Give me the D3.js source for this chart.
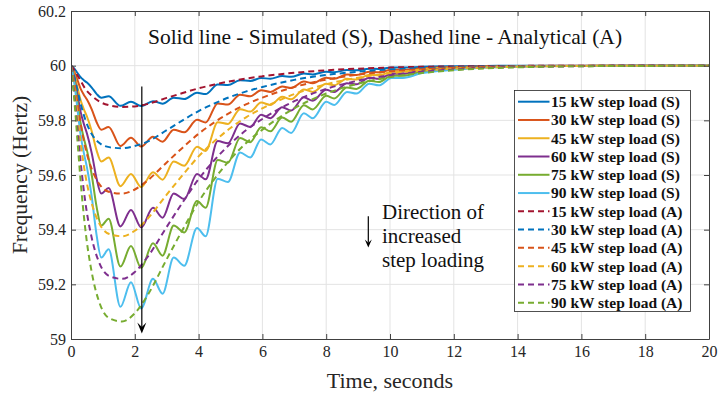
<!DOCTYPE html>
<html><head><meta charset="utf-8">
<script src="https://cdn.jsdelivr.net/npm/d3@7"></script>
<style>html,body{margin:0;padding:0;background:#fff;} svg{display:block;}</style>
</head><body>
<svg id="c" width="718" height="393"></svg>
<script>
// ---- data ----
const timeS = [0,0.1,0.2,0.3,0.4,0.5,0.65,0.8,0.95,1.18,1.55,1.88,2.2,2.57,2.87,3.22,3.55,3.95,4.22,4.6,4.92,5.3,5.62,5.96,6.25,6.62,6.9,7.3,7.58,8,8.25,8.65,8.95,9.35,9.65,10.05,10.4,11,12,13,14,16,20];
const sim15 = [60,59.990,59.974,59.958,59.947,59.938,59.920,59.897,59.883,59.888,59.853,59.868,59.852,59.870,59.861,59.883,59.878,59.901,59.896,59.931,59.929,59.947,59.944,59.955,59.952,59.962,59.959,59.971,59.968,59.978,59.976,59.984,59.983,59.989,59.988,59.993,59.993,59.996,59.998,59.999,60,60,60];
const sim30 = [60,59.980,59.948,59.916,59.894,59.876,59.840,59.794,59.766,59.776,59.706,59.736,59.704,59.740,59.722,59.766,59.756,59.802,59.792,59.862,59.858,59.894,59.888,59.910,59.904,59.924,59.918,59.942,59.936,59.956,59.952,59.968,59.966,59.978,59.976,59.985,59.985,59.991,59.995,59.998,59.999,60,60];
const sim45 = [60,59.970,59.922,59.874,59.841,59.814,59.760,59.691,59.649,59.664,59.559,59.604,59.556,59.610,59.583,59.649,59.634,59.703,59.688,59.793,59.787,59.841,59.832,59.865,59.856,59.886,59.877,59.913,59.904,59.934,59.928,59.952,59.949,59.967,59.964,59.978,59.978,59.987,59.993,59.996,59.999,59.999,60];
const sim60 = [60,59.960,59.896,59.832,59.788,59.752,59.680,59.588,59.532,59.552,59.412,59.472,59.408,59.480,59.444,59.532,59.512,59.604,59.584,59.724,59.716,59.788,59.776,59.820,59.808,59.848,59.836,59.884,59.872,59.912,59.904,59.936,59.932,59.956,59.952,59.970,59.970,59.982,59.990,59.995,59.998,59.999,60];
const sim75 = [60,59.950,59.870,59.790,59.735,59.690,59.600,59.485,59.415,59.440,59.265,59.340,59.260,59.350,59.305,59.415,59.390,59.505,59.480,59.655,59.645,59.735,59.720,59.775,59.760,59.810,59.795,59.855,59.840,59.890,59.880,59.920,59.915,59.945,59.940,59.963,59.963,59.978,59.988,59.994,59.998,59.999,60];
const sim90 = [60,59.940,59.844,59.748,59.682,59.628,59.520,59.382,59.298,59.328,59.118,59.208,59.112,59.220,59.166,59.298,59.268,59.406,59.376,59.586,59.574,59.682,59.664,59.730,59.712,59.772,59.754,59.826,59.808,59.868,59.856,59.904,59.898,59.934,59.928,59.955,59.955,59.973,59.985,59.993,59.997,59.999,60];

const timeA = [0,0.1,0.2,0.3,0.45,0.65,0.9,1.2,1.6,2.0,2.4,3.0,3.5,4.0,4.5,5.0,5.5,6.0,7.0,8.0,9.0,10,11,12,13,14,16,18,20];
const ana15 = [60,59.985,59.965,59.945,59.915,59.890,59.868,59.855,59.849,59.851,59.860,59.882,59.900,59.917,59.931,59.943,59.953,59.961,59.974,59.983,59.989,59.993,59.996,59.997,59.998,59.999,60,60,60];
const ana30 = [60,59.962,59.912,59.862,59.802,59.750,59.716,59.702,59.698,59.706,59.722,59.764,59.800,59.834,59.862,59.886,59.906,59.922,59.948,59.966,59.978,59.986,59.991,59.994,59.997,59.998,59.999,60,60];
const ana45 = [60,59.940,59.865,59.790,59.700,59.622,59.565,59.538,59.532,59.547,59.580,59.646,59.700,59.751,59.793,59.829,59.859,59.883,59.922,59.949,59.967,59.979,59.987,59.992,59.995,59.997,59.999,60,60];
const ana60 = [60,59.920,59.820,59.720,59.600,59.496,59.420,59.384,59.376,59.396,59.440,59.528,59.600,59.668,59.724,59.772,59.812,59.844,59.896,59.932,59.956,59.972,59.982,59.989,59.993,59.996,59.999,60,60];
const ana75 = [60,59.900,59.775,59.650,59.500,59.370,59.275,59.230,59.220,59.245,59.300,59.410,59.500,59.585,59.655,59.715,59.765,59.805,59.870,59.915,59.945,59.965,59.978,59.986,59.992,59.995,59.998,60,60];
const ana90 = [60,59.880,59.730,59.580,59.400,59.244,59.130,59.076,59.064,59.094,59.160,59.292,59.400,59.502,59.586,59.658,59.718,59.766,59.844,59.898,59.934,59.958,59.973,59.983,59.990,59.994,59.998,59.999,60];

const xTicks = [0,2,4,6,8,10,12,14,16,18,20];
const yTicks = [59,59.2,59.4,59.6,59.8,60,60.2];
const yTickLabels = ["59","59.2","59.4","59.6","59.8","60","60.2"];
const legendLabels = ["15 kW step load (S)","30 kW step load (S)","45 kW step load (S)","60 kW step load (S)","75 kW step load (S)","90 kW step load (S)",
  "15 kW step load (A)","30 kW step load (A)","45 kW step load (A)","60 kW step load (A)","75 kW step load (A)","90 kW step load (A)"];
const titleText = "Solid line - Simulated (S), Dashed line - Analytical (A)";
const noteLines = ["Direction of","increased","step loading"];

// ---- drawing ----
const colorsS = ["#0072BD","#D95319","#EDB120","#7E2F8E","#77AC30","#4DBEEE"];
const colorsA = ["#A2142F","#0072BD","#D95319","#EDB120","#7E2F8E","#77AC30"];
const simSeries = [sim15,sim30,sim45,sim60,sim75,sim90];
const anaSeries = [ana15,ana30,ana45,ana60,ana75,ana90];

const L = 71, R = 709, T = 11, B = 339;
const svg = d3.select("#c");
const x = d3.scaleLinear().domain([0,20]).range([L,R]);
const y = d3.scaleLinear().domain([59,60.2]).range([B,T]);
const serif = "'Liberation Serif','Times New Roman',serif";

// grid
const g = svg.append("g");
g.selectAll("line.vx").data(xTicks.slice(1,-1)).join("line")
  .attr("x1",d=>x(d)).attr("x2",d=>x(d)).attr("y1",T).attr("y2",B)
  .attr("stroke","#e3e3e3").attr("stroke-width",1);
g.selectAll("line.hy").data(yTicks.slice(1,-1)).join("line")
  .attr("x1",L).attr("x2",R).attr("y1",d=>y(d)).attr("y2",d=>y(d))
  .attr("stroke","#e3e3e3").attr("stroke-width",1);

svg.append("defs").append("clipPath").attr("id","clip")
  .append("rect").attr("x",L).attr("y",T).attr("width",R-L).attr("height",B-T);

const lineS = d3.line().x((d,i)=>x(timeS[i])).y(d=>y(d)).curve(d3.curveMonotoneX);
const lineA = d3.line().x((d,i)=>x(timeA[i])).y(d=>y(d)).curve(d3.curveMonotoneX);
const plot = svg.append("g").attr("clip-path","url(#clip)");
simSeries.forEach((s,i)=>{
  plot.append("path").attr("d",lineS(s)).attr("fill","none")
    .attr("stroke",colorsS[i]).attr("stroke-width",2);
});
anaSeries.forEach((s,i)=>{
  plot.append("path").attr("d",lineA(s)).attr("fill","none")
    .attr("stroke",colorsA[i]).attr("stroke-width",2).attr("stroke-dasharray","6,4");
});

// axes
const axCol = "#404040";
function styleAxis(sel){
  sel.select(".domain").attr("stroke",axCol);
  sel.selectAll(".tick line").attr("stroke",axCol);
  sel.selectAll("text").attr("font-family",serif).attr("font-size",16).attr("fill","#262626");
}
svg.append("g").attr("transform",`translate(0,${B})`)
  .call(d3.axisBottom(x).tickValues(xTicks).tickFormat(d3.format("d")).tickSizeInner(-5).tickSizeOuter(0).tickPadding(7))
  .call(styleAxis);
svg.append("g").attr("transform",`translate(${L},0)`)
  .call(d3.axisLeft(y).tickValues(yTicks).tickFormat((d,i)=>yTickLabels[i]).tickSizeInner(-5).tickSizeOuter(0).tickPadding(5))
  .call(styleAxis);
svg.append("g").attr("transform",`translate(0,${T})`)
  .call(d3.axisTop(x).tickValues(xTicks).tickFormat("").tickSizeInner(-5).tickSizeOuter(0))
  .call(styleAxis);
svg.append("g").attr("transform",`translate(${R},0)`)
  .call(d3.axisRight(y).tickValues(yTicks).tickFormat("").tickSizeInner(-5).tickSizeOuter(0))
  .call(styleAxis);

// axis titles
svg.append("text").attr("x",(L+R)/2).attr("y",388).attr("text-anchor","middle")
  .attr("font-family",serif).attr("font-size",22).attr("fill","#262626").text("Time, seconds");
svg.append("text").attr("transform",`translate(27,${(T+B)/2}) rotate(-90)`).attr("text-anchor","middle")
  .attr("font-family",serif).attr("font-size",21.5).attr("fill","#262626").text("Frequency (Hertz)");

// in-plot title
svg.append("text").attr("x",385).attr("y",44).attr("text-anchor","middle")
  .attr("font-family",serif).attr("font-size",21.5).attr("fill","#111").text(titleText);

// arrows
function arrow(xv, y0v, y1v, w, h){
  const xx = x(xv), ya = y(y0v), yb = y(y1v);
  svg.append("line").attr("x1",xx).attr("x2",xx).attr("y1",ya).attr("y2",yb-h*0.6)
    .attr("stroke","#000").attr("stroke-width",1.2);
  svg.append("path").attr("d",`M${xx},${yb} L${xx-w/2},${yb-h} L${xx},${yb-h*0.6} L${xx+w/2},${yb-h} Z`)
    .attr("fill","#000");
}
arrow(2.22, 59.924, 59.02, 9, 11);
arrow(9.32, 59.449, 59.335, 7, 8);

// note
noteLines.forEach((t,i)=>{
  svg.append("text").attr("x",x(9.75)).attr("y",219+i*24)
    .attr("font-family",serif).attr("font-size",21).attr("fill","#111").text(t);
});

// legend
const lg = svg.append("g");
lg.append("rect").attr("x",514.5).attr("y",90.5).attr("width",176).attr("height",221)
  .attr("fill","#fff").attr("stroke","#262626").attr("stroke-width",0.8);
legendLabels.forEach((t,i)=>{
  const yy = 101.7 + i*18.27;
  const dashed = i>=6;
  lg.append("line").attr("x1",518).attr("x2",549.5).attr("y1",yy).attr("y2",yy)
    .attr("stroke", dashed ? colorsA[i-6] : colorsS[i]).attr("stroke-width",2)
    .attr("stroke-dasharray", dashed ? "6,4" : null);
  lg.append("text").attr("x",551).attr("y",yy).attr("dy","0.35em")
    .attr("font-family",serif).attr("font-size",15.5).attr("font-weight","bold").attr("fill","#111").text(t);
});
</script>
</body></html>
